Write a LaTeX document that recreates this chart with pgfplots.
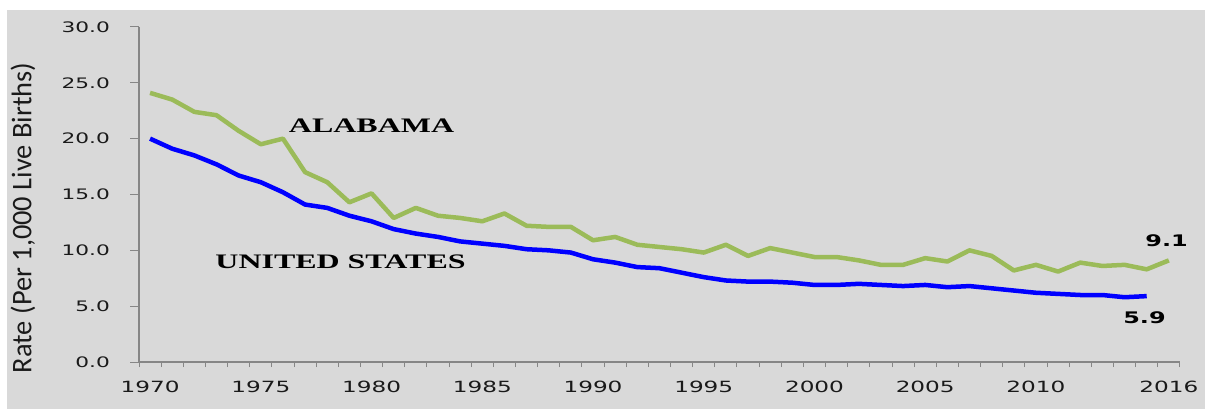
\documentclass[border=0pt]{standalone}
\usepackage{pgfplots}
\pgfplotsset{compat=1.18}
\usepackage{pgfplotstable}
\usepackage{fontspec}
\newfontfamily\tickfont[FakeStretch=1.5]{DejaVu Sans}
\newfontfamily\labfont{Carlito}
\newfontfamily\annfont[FakeStretch=1.55]{Liberation Serif}
\definecolor{bg}{HTML}{D9D9D9}
\definecolor{axgray}{HTML}{868686}
\definecolor{algreen}{HTML}{9BBB59}
\definecolor{usblue}{HTML}{0000FF}
\definecolor{txt}{HTML}{1A1A1A}

\pgfplotstableread{
year rate
1970 24.1
1971 23.5
1972 22.4
1973 22.1
1974 20.7
1975 19.5
1976 20.0
1977 17.0
1978 16.1
1979 14.3
1980 15.1
1981 12.9
1982 13.8
1983 13.1
1984 12.9
1985 12.6
1986 13.3
1987 12.2
1988 12.1
1989 12.1
1990 10.9
1991 11.2
1992 10.5
1993 10.3
1994 10.1
1995 9.8
1996 10.5
1997 9.5
1998 10.2
1999 9.8
2000 9.4
2001 9.4
2002 9.1
2003 8.7
2004 8.7
2005 9.3
2006 9.0
2007 10.0
2008 9.5
2009 8.2
2010 8.7
2011 8.1
2012 8.9
2013 8.6
2014 8.7
2015 8.3
2016 9.1
}\alabama

\pgfplotstableread{
year rate
1970 20.0
1971 19.1
1972 18.5
1973 17.7
1974 16.7
1975 16.1
1976 15.2
1977 14.1
1978 13.8
1979 13.1
1980 12.6
1981 11.9
1982 11.5
1983 11.2
1984 10.8
1985 10.6
1986 10.4
1987 10.1
1988 10.0
1989 9.8
1990 9.2
1991 8.9
1992 8.5
1993 8.4
1994 8.0
1995 7.6
1996 7.3
1997 7.2
1998 7.2
1999 7.1
2000 6.9
2001 6.9
2002 7.0
2003 6.9
2004 6.8
2005 6.9
2006 6.7
2007 6.8
2008 6.6
2009 6.4
2010 6.2
2011 6.1
2012 6.0
2013 6.0
2014 5.8
2015 5.9
}\us

\begin{document}
\begin{tikzpicture}[x=1bp,y=1bp]
\path[use as bounding box] (0,0) rectangle (1205,409);
\fill[bg] (7,0) rectangle (1205,399);
\begin{axis}[
  at={(139bp,47bp)}, anchor=south west,
  scale only axis, width=1041bp, height=335bp,
  xmin=1969.5, xmax=2016.5, ymin=0, ymax=30,
  clip=false,
  axis x line*=bottom, axis y line*=left,
  axis line style={axgray, line width=1.3bp, -},
  tick align=outside,
  major tick length=9bp,
  minor tick length=5bp,
  xtick={1970,1975,1980,1985,1990,1995,2000,2005,2010,2016},
  xticklabels={1970,1975,1980,1985,1990,1995,2000,2005,2010,2016},
  major x tick style={draw=none},
  minor xtick={1969.5,1970.5,...,2016.5},
  minor x tick style={axgray, line width=1bp},
  ytick={0,5,...,30},
  major y tick style={axgray, line width=1bp},
  /pgf/number format/assume math mode=true,
  yticklabel style={font=\tickfont\fontsize{14.5}{14.5}\selectfont, text=txt, inner sep=0pt, xshift=-20bp,
    /pgf/number format/.cd, fixed, fixed zerofill, precision=1},
  xticklabel style={font=\tickfont\fontsize{15.5}{15.5}\selectfont, text=txt, inner sep=0pt, yshift=-10bp},
  ylabel={Rate (Per 1,000 Live Births)},
  ylabel style={font=\labfont\fontsize{28.5}{28.5}\selectfont, text=txt, at={(axis description cs:-0.1114,0.43)}, anchor=center},
  line join=round,
]
\addplot[algreen, line width=4.5bp, line join=round] table[x=year,y=rate]{\alabama};
\addplot[usblue, line width=4.5bp, line join=round] table[x=year,y=rate]{\us};
\node[font=\annfont\bfseries\fontsize{20.7}{20.7}\selectfont] at (axis cs:1980,21.2) {ALABAMA};
\node[font=\annfont\bfseries\fontsize{20.7}{20.7}\selectfont] at (axis cs:1978.6,8.95) {UNITED STATES};
\node[font=\tickfont\bfseries\fontsize{16}{16}\selectfont] at (axis cs:2015.9,10.83) {9.1};
\node[font=\tickfont\bfseries\fontsize{16}{16}\selectfont] at (axis cs:2014.9,3.94) {5.9};
\end{axis}
\end{tikzpicture}
\end{document}
